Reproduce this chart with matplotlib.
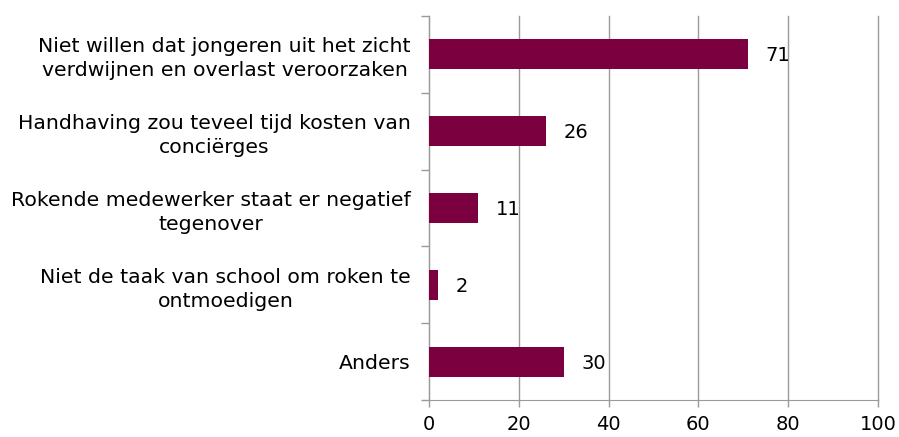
import numpy as np
from matplotlib import pyplot as plt

categories = ['Niet willen dat jongeren uit het zicht\nverdwijnen en overlast veroorzaken',
              'Handhaving zou teveel tijd kosten van\nconciërges',
              'Rokende medewerker staat er negatief\ntegenover',
              'Niet de taak van school om roken te\nontmoedigen',
              'Anders']
values = [71, 26, 11, 2, 30]
xticks = [0, 20, 40, 60, 80, 100]

plt.rcParams['font.family'] = ['DejaVu Sans']
fig = plt.figure(figsize=(8.99, 4.37), dpi=100)
ax = fig.add_axes([429/899, 1 - 400/437, 449/899, 384/437])

y = np.arange(len(values))
ax.barh(y, values, height=0.39, color='#7A0040', zorder=3)
for yi, v in zip(y, values):
    ax.text(v + 4, yi + 0.02, str(v), va='center', ha='left', fontsize=14, color='black')

ax.set_ylim(len(values) - 0.5, -0.5)
ax.set_xlim(0, 100)
ax.set_xticks(xticks)
ax.set_xticklabels([str(t) for t in xticks], fontsize=14)
ax.xaxis.grid(True, color='#9a9a9a', linewidth=1, zorder=0)
for gl in ax.get_xgridlines():
    gl.set_clip_on(False)

ax.set_yticks(y)
ax.set_yticklabels(categories, fontsize=14.7, ha='right', multialignment='center',
                   linespacing=1.32)
ax.tick_params(axis='y', length=0, pad=13)
ax.set_yticks(np.arange(-0.5, len(values)), minor=True)
ax.tick_params(axis='y', which='minor', length=6, color='#9a9a9a', width=1)
ax.tick_params(axis='x', length=5, color='#9a9a9a', width=1, pad=6)

for s in ['top', 'right']:
    ax.spines[s].set_visible(False)
ax.spines['left'].set_color('#9a9a9a')
ax.spines['bottom'].set_color('#9a9a9a')

fig.savefig('out.png', dpi=100)
